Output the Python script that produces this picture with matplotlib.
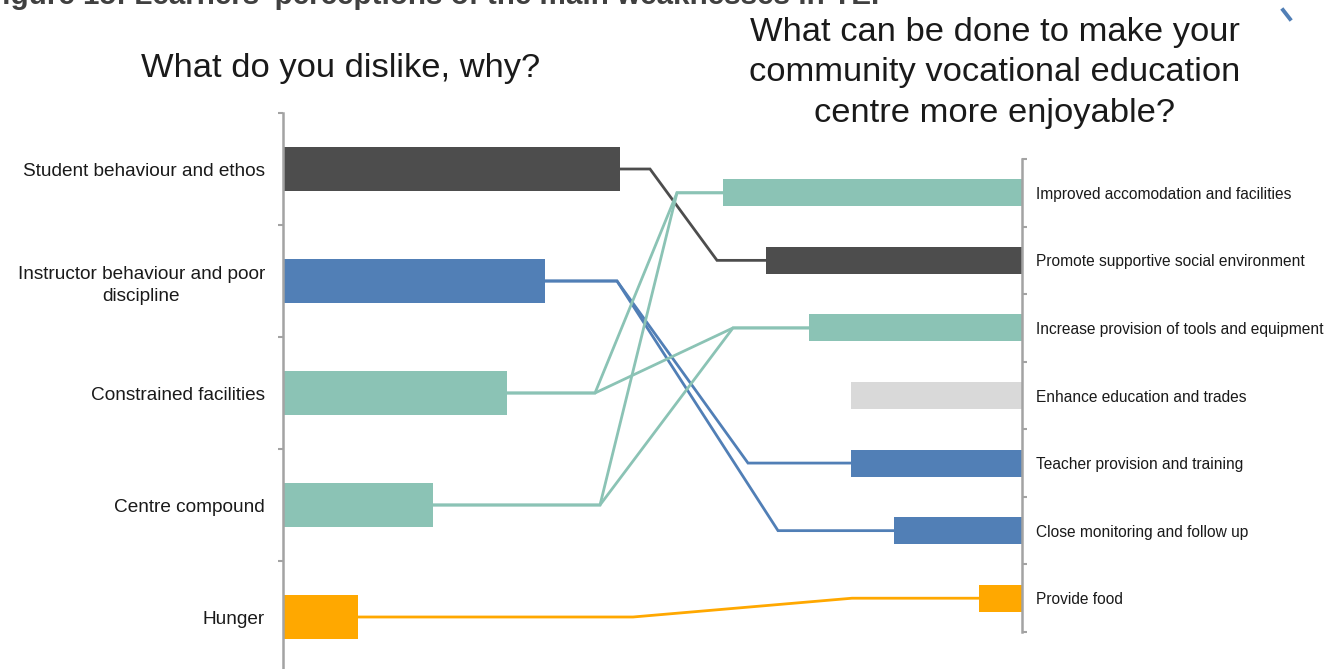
import matplotlib
matplotlib.use("Agg")
import matplotlib.pyplot as plt
from matplotlib.lines import Line2D

plt.rcParams['font.family'] = ['Liberation Sans', 'DejaVu Sans']

# ---- data -------------------------------------------------------------
dislike_labels = [
    "Student behaviour and ethos",
    "Instructor behaviour and poor\ndiscipline",
    "Constrained facilities",
    "Centre compound",
    "Hunger",
]
dislike_counts = [9, 7, 6, 4, 2]
dislike_colors = ["#4d4d4d", "#517fb6", "#8bc3b5", "#8bc3b5", "#ffa800"]

improve_labels = [
    "Improved accomodation and facilities",
    "Promote supportive social environment",
    "Increase provision of tools and equipment",
    "Enhance education and trades",
    "Teacher provision and training",
    "Close monitoring and follow up",
    "Provide food",
]
improve_counts = [7, 6, 5, 4, 4, 3, 1]
improve_colors = ["#8bc3b5", "#4d4d4d", "#8bc3b5", "#d9d9d9",
                  "#517fb6", "#517fb6", "#ffa800"]

# which weakness feeds which suggested improvement
link_pairs = [(0, 1), (1, 4), (1, 5), (2, 0), (2, 2), (3, 0), (3, 2), (4, 6)]

# ---- layout -----------------------------------------------------------
W, H = 1324, 669
# horizontal pixel positions of the two bends of each connector
link_bends = [(650, 717), (617, 748), (617, 778), (595, 677),
              (595, 733), (600, 677), (600, 733), (633, 852)]
px_per_unit_left = 37.4
px_per_unit_right = 42.7
axis_grey = "#a3a3a3"

fig = plt.figure(figsize=(W / 100, H / 100), dpi=100)


def fig_rect(left, top, right, bottom):
    return [left / W, (H - bottom) / H, (right - left) / W, (bottom - top) / H]


# left panel: bars grow to the right from the axis
left_px, right_px_l = 283, 700
ax_l = fig.add_axes(fig_rect(left_px, 113, right_px_l, 673))
ax_l.patch.set_alpha(0)
n_l = len(dislike_counts)
ax_l.barh(range(n_l), dislike_counts, height=0.4, color=dislike_colors)
ax_l.set_xlim(0, (right_px_l - left_px) / px_per_unit_left)
ax_l.set_ylim(n_l - 0.5, -0.5)
for s in ["top", "right", "bottom"]:
    ax_l.spines[s].set_visible(False)
ax_l.spines["left"].set_color(axis_grey)
ax_l.spines["left"].set_linewidth(1.8)
ax_l.set_xticks([])
ax_l.set_yticks(range(n_l))
ax_l.set_yticklabels(dislike_labels, fontsize=13.7, color="#1a1a1a")
for lab in ax_l.get_yticklabels():
    lab.set_multialignment("center")
    lab.set_linespacing(1.35)
ax_l.set_yticks([k - 0.5 for k in range(n_l + 1)], minor=True)
ax_l.tick_params(axis="y", which="major", length=0, pad=13)
ax_l.tick_params(axis="y", which="minor", length=3.5, width=1.5,
                 color=axis_grey, direction="out")

# right panel: bars grow to the left from the axis
left_px_r, axis_px_r = 662, 1022
ax_r = fig.add_axes(fig_rect(left_px_r, 159, axis_px_r, 632))
ax_r.patch.set_alpha(0)
n_r = len(improve_counts)
ax_r.barh(range(n_r), improve_counts, height=0.4, color=improve_colors)
ax_r.set_xlim((axis_px_r - left_px_r) / px_per_unit_right, 0)
ax_r.set_ylim(n_r - 0.5, -0.5)
for s in ["top", "left", "bottom"]:
    ax_r.spines[s].set_visible(False)
ax_r.spines["right"].set_color(axis_grey)
ax_r.spines["right"].set_linewidth(1.8)
ax_r.set_xticks([])
ax_r.yaxis.tick_right()
ax_r.set_yticks(range(n_r))
ax_r.set_yticklabels(improve_labels, fontsize=11.2, color="#1a1a1a")
ax_r.set_yticks([k - 0.5 for k in range(n_r + 1)], minor=True)
ax_r.tick_params(axis="y", which="major", length=0, pad=10)
ax_r.tick_params(axis="y", which="minor", length=3.5, width=1.5,
                 color=axis_grey, direction="out")

# connectors from each weakness bar to the improvement bars
inv = fig.transFigure.inverted()
for (i, j), (bx1, bx2) in zip(link_pairs, link_bends):
    x0, y0 = ax_l.transData.transform((dislike_counts[i], i))
    x3, y3 = ax_r.transData.transform((improve_counts[j], j))
    pts = [(x0, y0), (bx1, y0), (bx2, y3), (x3, y3)]
    fpts = inv.transform(pts)
    fig.add_artist(Line2D(fpts[:, 0], fpts[:, 1], transform=fig.transFigure,
                          color=dislike_colors[i], lw=2.0,
                          solid_joinstyle="miter", zorder=1))

# headings
fig.text(341 / W, 1 - 68 / H, "What do you dislike, why?", ha="center",
         va="center", fontsize=24.8, color="#1a1a1a")
fig.text(995 / W, 1 - 73 / H,
         "What can be done to make your\ncommunity vocational education\n"
         "centre more enjoyable?",
         ha="center", va="center", fontsize=24.8, color="#1a1a1a",
         linespacing=1.39)
fig.text(-16 / W, 1 - 4 / H,
         "Figure 15: Learners' perceptions of the main weaknesses in TE.",
         ha="left", va="baseline", fontsize=21.3, fontweight="bold",
         color="#404040")
fig.add_artist(Line2D([1283 / W, 1290 / W], [1 - 10 / H, 1 - 19 / H],
                      transform=fig.transFigure, color="#517fb6", lw=2.8))

fig.savefig("out.png", dpi=100)
